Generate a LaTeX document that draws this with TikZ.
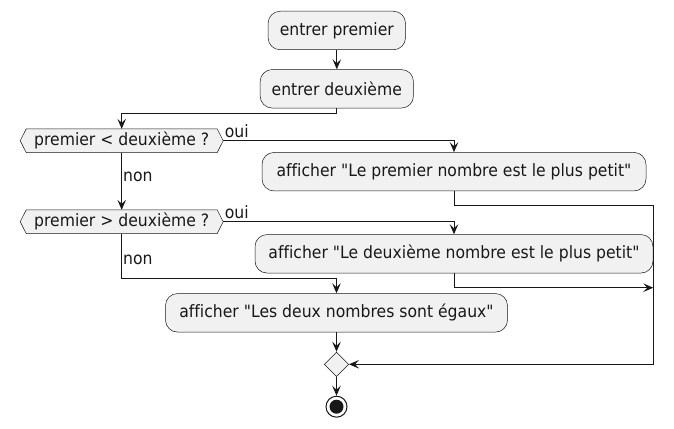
\documentclass[tikz,border=0pt]{standalone}
\usepackage{fontspec}
\setmainfont{DejaVu Sans}[FakeStretch=0.92, Ligatures={TeXOff,NoCommon}]
\usetikzlibrary{arrows.meta,shapes.geometric}
\definecolor{boxfill}{HTML}{F1F1F1}
\definecolor{ink}{HTML}{181818}
\begin{document}
\begin{tikzpicture}[x=1pt,y=-1pt,
  every node/.style={font=\fontsize{17}{20}\selectfont, text=ink},
  act/.style={draw=ink, line width=0.5pt, fill=boxfill, rounded corners=12pt, inner sep=0pt, minimum height=38.5pt},
  dec/.style={inner sep=0pt, minimum width=202.6pt, minimum height=23.3pt},
  hexa/.style={draw=ink, line width=0.5pt, fill=boxfill},
  merge/.style={draw=ink, line width=0.5pt, fill=boxfill, diamond, inner sep=0pt, minimum width=24.5pt, minimum height=24.5pt},
  arr/.style={draw=ink, line width=1pt, -{Stealth[length=10pt,width=8.5pt,inset=4pt]}},
  lbl/.style={inner sep=0pt}
]
\useasboundingbox (0,0) rectangle (674,428);
% actions
\node[act, minimum width=137.4pt] (a1) at (336.8,30.5) {entrer premier};
\node[act, minimum width=153.3pt] (a2) at (336.8,88.8) {entrer deuxième};
\node[act, minimum width=384pt] (b1) at (454,171.7) {afficher "Le premier nombre est le plus petit"};
\node[act, minimum width=398pt] (b2) at (454,253.8) {afficher "Le deuxième nombre est le plus petit"};
\node[act, minimum width=342pt] (b3) at (336.5,312.8) {afficher "Les deux nombres sont égaux"};
% decisions
\node[dec] (d1) at (121.7,140.7) {};
\node[dec] (d2) at (121.7,221.7) {};
\foreach \d in {d1,d2}{
  \path[hexa] (\d.west) -- ([xshift=6pt]\d.north west) -- ([xshift=-6pt]\d.north east) -- (\d.east)
    -- ([xshift=-6pt]\d.south east) -- ([xshift=6pt]\d.south west) -- cycle;
}
\node[dec] (t1) at (d1) {premier < deuxième ?};
\node[dec] (t2) at (d2) {premier > deuxième ?};
% merge and end
\node[merge] (m) at (336.5,364.3) {};
\node[circle, draw=ink, line width=1pt, fill=white, minimum size=21pt, inner sep=0pt] (e) at (336.5,406.7) {};
\node[circle, fill=ink, minimum size=14pt, inner sep=0pt] (ein) at (e) {};
% joints
\coordinate (j1) at (121.7,113.3);
\coordinate (r1) at (653.3,205.3);
\coordinate (r2) at (653.3,287.7);
\coordinate (j2) at (121.7,278.3);
% connectors
\draw[arr] (a1.south) -- (a2.north);
\draw[arr] (a2.south) |- (j1) -- (d1.north);
\draw[arr] (d1.east) -| (b1.north);
\draw[arr] (d1.south) -- (d2.north);
\draw[arr] (b1.south) |- (r1) |- (m.east);
\draw[arr] (d2.east) -| (b2.north);
\draw[arr] (b2.south) |- (r2);
\draw[arr] (d2.south) -- (j2) -| (b3.north);
\draw[arr] (b3.south) -- (m.north);
\draw[arr] (m.south) -- (e.north);
% labels
\node[lbl, anchor=south west] (o1) at ([xshift=1.5pt,yshift=3pt]d1.east) {oui};
\node[lbl, anchor=south west] (o2) at ([xshift=1.5pt,yshift=3pt]d2.east) {oui};
\node[lbl, anchor=west] (n1) at (123,176.5) {non};
\node[lbl, anchor=west] (n2) at (123,259.5) {non};
\end{tikzpicture}
\end{document}
